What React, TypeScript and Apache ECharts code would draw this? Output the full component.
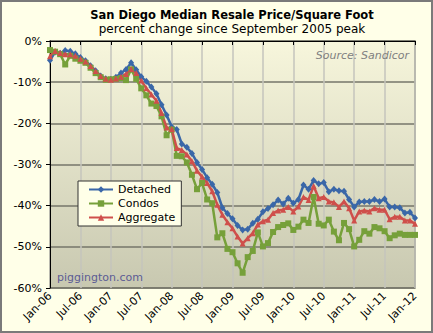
import React, { useEffect, useRef } from "react";
import * as echarts from "echarts";

const MONTH_NAMES = ["Jan", "Feb", "Mar", "Apr", "May", "Jun", "Jul", "Aug", "Sep", "Oct", "Nov", "Dec"];
const YEARS = ["06", "07", "08", "09", "10", "11"];
const categories: string[] = [];
YEARS.forEach((y) => MONTH_NAMES.forEach((m) => categories.push(`${m}-${y}`)));
categories.push("Jan-12");

const detached = [
  -4.7, -2.7, -3.0, -2.3, -2.5, -3.1, -4.0, -4.8, -6.0, -7.2, -8.5, -9.2,
  -9.3, -8.8, -7.8, -6.9, -5.3, -7.0, -8.7, -9.8, -11.2, -12.8, -15.5, -18.0,
  -20.8, -21.5, -25.0, -25.8, -27.3, -29.5, -31.2, -33.2, -34.8, -36.8, -40.5, -41.9,
  -43.2, -44.8, -45.9, -45.7, -44.3, -43.3, -41.5, -40.7, -39.8, -38.6, -39.6, -38.2,
  -39.4, -38.5, -35.0, -36.0, -33.9, -34.7, -34.4, -36.6, -36.0, -36.4, -36.5, -38.5,
  -40.3, -39.1, -39.0, -39.0, -38.5, -39.0, -38.4, -40.3, -40.3, -40.5, -41.8, -41.6,
  -43.0,
];

const condos = [
  -2.2, -2.6, -3.2, -5.7, -3.6, -4.3, -4.8, -5.3, -6.5, -7.8, -8.8, -9.4,
  -9.3, -9.2, -9.0, -9.5, -6.9, -9.2, -11.5, -13.2, -15.2, -15.8, -18.3, -22.9,
  -21.5, -27.9, -28.0, -29.5, -32.5, -36.0, -34.5, -38.5, -39.4, -47.7, -46.7, -50.5,
  -51.3, -54.0, -56.3, -52.5, -51.0, -46.5, -49.9, -49.1, -46.4, -45.2, -44.7, -44.3,
  -45.9, -45.1, -43.4, -44.2, -37.9, -44.4, -44.8, -43.4, -46.3, -48.4, -44.2, -45.7,
  -49.9, -48.3, -46.2, -46.8, -45.2, -45.5, -46.2, -47.9, -47.2, -46.8, -47.1, -47.1,
  -47.1,
];

const aggregate = [
  -3.7, -2.4, -2.9, -3.2, -3.2, -3.6, -4.3, -5.0, -6.1, -7.3, -8.5, -9.2,
  -9.4, -9.1, -8.7, -8.0, -6.8, -7.8, -9.6, -11.5, -13.0, -14.5, -17.5, -21.0,
  -21.4, -26.0, -26.5, -27.6, -29.2, -31.5, -33.0, -34.5, -36.5, -39.8, -42.2, -44.0,
  -45.5, -47.5, -49.2, -47.9, -46.7, -44.6, -43.8, -43.4, -41.8, -41.2, -41.0, -40.3,
  -41.4, -40.2, -37.9, -38.6, -35.2, -38.2, -37.9, -39.0, -39.2, -40.3, -39.0, -40.6,
  -43.6, -41.4, -41.2, -41.4, -40.6, -41.0, -41.0, -43.3, -42.7, -42.7, -43.6, -43.6,
  -44.4,
];

const TITLE = "San Diego Median Resale Price/Square Foot";
const SUBTITLE = "percent change since September 2005 peak";
const SOURCE = "Source: Sandicor";
const CREDIT = "piggington.com";

const FONT = "DejaVu Sans, Verdana, sans-serif";

export default function App() {
  const ref = useRef<HTMLDivElement>(null);
  useEffect(() => {
    if (!ref.current) return;
    const chart = echarts.init(ref.current, undefined, { renderer: "svg" });
    const mkSeries = (name: string, data: number[], color: string, symbol: string, size: any) => ({
      name,
      type: "line",
      data,
      symbol,
      symbolSize: size,
      showAllSymbol: true,
      lineStyle: { color, width: 2.5 },
      itemStyle: { color },
      z: 3,
    });
    chart.setOption({
      animation: false,
      backgroundColor: "#ffffe8",
      textStyle: { fontFamily: FONT },
      grid: {
        left: 50,
        right: 18,
        top: 41,
        bottom: 45,
        show: true,
        backgroundColor: new echarts.graphic.LinearGradient(0, 0, 0, 1, [
          { offset: 0, color: "#f7f6dc" },
          { offset: 1, color: "#c8c8b0" },
        ]),
        borderColor: "#7a7a6c",
        borderWidth: 1.5,
      },
      legend: {
        orient: "vertical",
        left: 78,
        top: 181,
        width: 92,
        backgroundColor: "#ffffe8",
        borderColor: "#333333",
        borderWidth: 1,
        padding: [3, 6, 3, 10],
        itemGap: 3,
        itemWidth: 24,
        itemHeight: 8,
        textStyle: { fontSize: 11, fontFamily: FONT, color: "#000" },
        data: ["Detached", "Condos", "Aggregate"],
      },
      xAxis: {
        type: "category",
        data: categories,
        boundaryGap: false,
        axisLine: { lineStyle: { color: "#000", width: 1 } },
        axisTick: { interval: 5, length: 4, lineStyle: { color: "#000" } },
        axisLabel: {
          interval: 5,
          rotate: 45,
          fontSize: 11,
          color: "#000",
          fontFamily: FONT,
          margin: 6,
        },
        splitLine: { show: true, interval: 5, lineStyle: { color: "#c4c4bc", width: 1.5 } },
      },
      yAxis: {
        type: "value",
        min: -60,
        max: 0,
        interval: 10,
        axisLine: { show: true, onZero: false, lineStyle: { color: "#000", width: 1 } },
        axisTick: { show: true, length: 4, lineStyle: { color: "#000" } },
        axisLabel: { formatter: "{value}%", fontSize: 11, color: "#000", fontFamily: FONT, margin: 8 },
        splitLine: { show: true, lineStyle: { color: "#76766a", width: 1.5 } },
      },
      graphic: [
        {
          type: "rect",
          shape: { x: 1, y: 1, width: 431, height: 331 },
          style: { fill: "none", stroke: "#7a7a7a", lineWidth: 2 },
          silent: true,
        },
        {
          type: "text",
          x: 232,
          y: 15,
          style: {
            text: TITLE,
            font: `bold 11.5px ${FONT}`,
            fill: "#000",
            textAlign: "center",
            textVerticalAlign: "middle",
          },
        },
        {
          type: "text",
          x: 232,
          y: 29,
          style: {
            text: SUBTITLE,
            font: `12px ${FONT}`,
            fill: "#000",
            textAlign: "center",
            textVerticalAlign: "middle",
          },
        },
        {
          type: "text",
          x: 409,
          y: 55,
          z: 10,
          style: {
            text: SOURCE,
            font: `italic 11px ${FONT}`,
            fill: "#808080",
            textAlign: "right",
            textVerticalAlign: "middle",
          },
        },
        {
          type: "text",
          x: 57,
          y: 277,
          z: 10,
          style: {
            text: CREDIT,
            font: `11px ${FONT}`,
            fill: "#5c5c94",
            textAlign: "left",
            textVerticalAlign: "middle",
          },
        },
      ],
      series: [
        mkSeries("Detached", detached, "#3a67a8", "diamond", [6, 7]),
        mkSeries("Condos", condos, "#76a03a", "rect", 6),
        mkSeries("Aggregate", aggregate, "#cf4f4b", "triangle", 6),
      ],
    });
    return () => chart.dispose();
  }, []);
  return (
    <div
      ref={ref}
      style={{ position: "fixed", left: 0, top: 0, width: 433, height: 333 }}
    />
  );
}
